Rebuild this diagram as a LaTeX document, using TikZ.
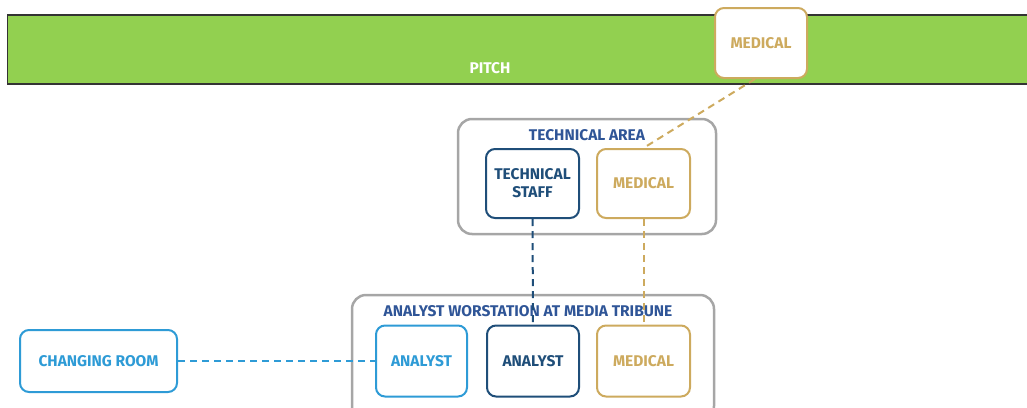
\documentclass[tikz,border=0pt]{standalone}
\usepackage{fontspec}
\setmainfont{Fira Sans}
\definecolor{pitchgreen}{HTML}{92D050}
\definecolor{gold}{HTML}{CDAA5E}
\definecolor{darkblue}{HTML}{1F4E79}
\definecolor{titleblue}{HTML}{2F5597}
\definecolor{lightblue}{HTML}{2E9BD6}
\definecolor{grayframe}{HTML}{A6A6A6}
\tikzset{lbl/.style={font=\fontsize{15.5}{18}\selectfont\bfseries}}
\begin{document}
\begin{tikzpicture}[x=1pt,y=-1pt,
  box/.style={draw, rounded corners=9pt, line width=2pt, fill=white, lbl, align=center},
  goldbox/.style={box, draw=gold, text=gold},
  darkbox/.style={box, draw=darkblue, text=darkblue},
  lightbox/.style={box, draw=lightblue, text=lightblue},
  frame/.style={draw=grayframe, rounded corners=14pt, line width=2.5pt},
  conn/.style={dash pattern=on 7pt off 5pt, line width=2pt},
  title/.style={text=titleblue, lbl}]
\useasboundingbox (0,0) rectangle (1027,407);
% pitch
\node[draw=black!80, fill=pitchgreen, line width=1.5pt, minimum width=1022pt, minimum height=69pt, inner sep=0pt] (pitch) at (518.5,49.5) {};
\node[text=white, lbl] (pitchlbl) at (490,68) {PITCH};
\node[goldbox, minimum width=92pt, minimum height=70pt] (medtop) at (761,43) {MEDICAL};
% technical area
\draw[frame] (458,119) rectangle (716,234);
\node[title] (tatitle) at (587,135) {TECHNICAL AREA};
\node[darkbox, minimum width=93pt, minimum height=69pt] (tstaff) at (532.5,183.5) {TECHNICAL\\STAFF};
\node[goldbox, minimum width=93pt, minimum height=69pt] (medta) at (643.5,183.5) {MEDICAL};
% analyst workstation
\draw[frame] (352,295) rectangle (714,420);
\node[title] (awtitle) at (528,311) {ANALYST WORSTATION AT MEDIA TRIBUNE};
\node[lightbox, minimum width=91pt, minimum height=71pt] (an1) at (421.5,361) {ANALYST};
\node[darkbox, minimum width=92pt, minimum height=71pt] (an2) at (533,361) {ANALYST};
\node[goldbox, minimum width=93pt, minimum height=71pt] (medaw) at (643.5,361) {MEDICAL};
% changing room
\node[lightbox, minimum width=157pt, minimum height=62pt] (cr) at (98.5,361) {CHANGING ROOM};
% connectors
\draw[conn, draw=gold] (medtop.south -| 755,0) -- (medta.north);
\draw[conn, draw=darkblue] (tstaff.south) -- (an2.north);
\draw[conn, draw=gold] (medta.south) -- (medaw.north);
\draw[conn, draw=lightblue] (cr.east) -- (an1.west);
\end{tikzpicture}
\end{document}
